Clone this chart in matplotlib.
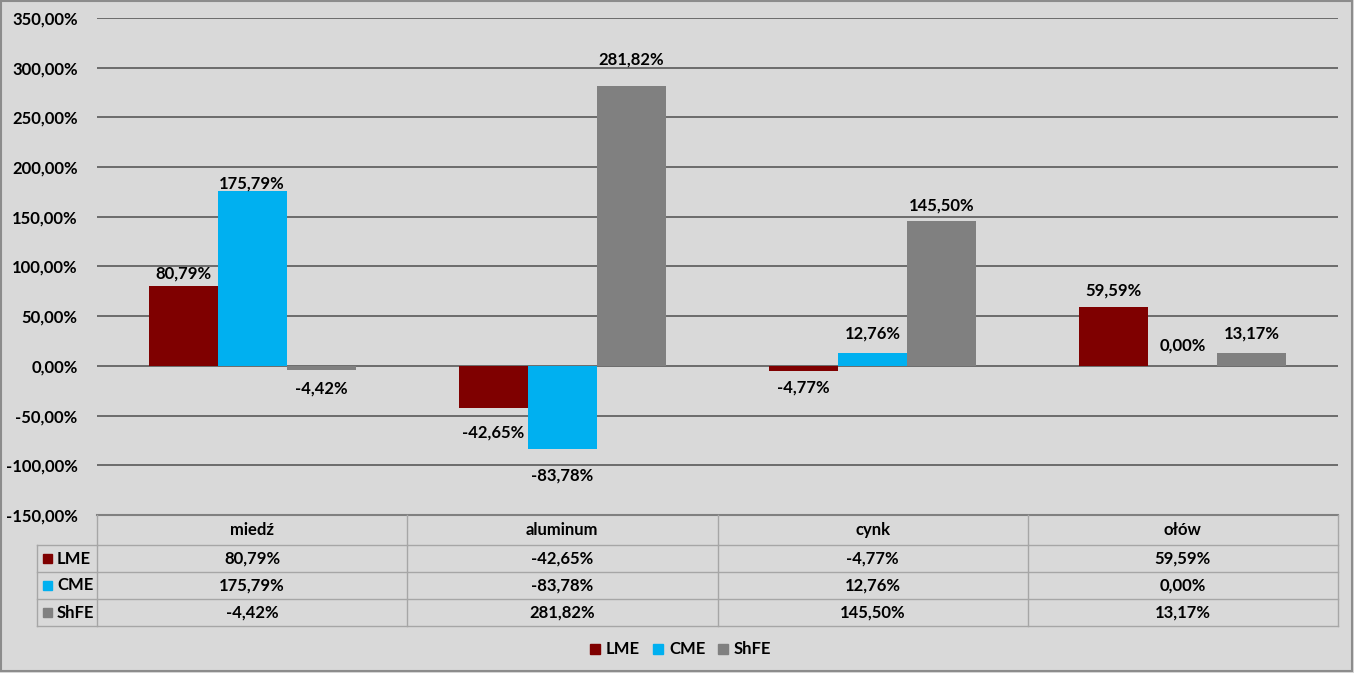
import numpy as np
import matplotlib
matplotlib.use('Agg')
from matplotlib import pyplot as plt
from matplotlib.patches import Rectangle

plt.rcParams['font.family'] = ['Lato', 'DejaVu Sans']
plt.rcParams['font.weight'] = 'bold'

categories = ['miedź', 'aluminum', 'cynk', 'ołów']
series = ['LME', 'CME', 'ShFE']
lme = [80.79, -42.65, -4.77, 59.59]
cme = [175.79, -83.78, 12.76, 0.00]
shfe = [-4.42, 281.82, 145.50, 13.17]
colors = ['#7F0000', '#00B0F0', '#808080']
yticks = list(range(-150, 351, 50))

values = [lme, cme, shfe]
# label offsets from the bar end, in pixels (layout only)
label_dy = [[-12, 24, 17, -16],
            [-8, 26, -20, -20],
            [18, -26, -16, -19]]

def pct(v):
    return ('%.2f%%' % v).replace('.', ',')

W, H = 1354, 673
fs = 12
fig = plt.figure(figsize=(W / 100, H / 100), dpi=100)
fig.patch.set_facecolor('#D9D9D9')

# plot area in pixels
x0, x1 = 97, 1338
y_top, y_bot = 18, 515
ax = fig.add_axes([x0 / W, 1 - y_bot / H, (x1 - x0) / W, (y_bot - y_top) / H])
ax.set_facecolor('#D9D9D9')
ax.set_xlim(0, len(categories))
ax.set_ylim(-150, 350)
ax.set_yticks(yticks)
ax.set_yticklabels([pct(t) for t in yticks], fontsize=fs, fontweight='bold')
ax.tick_params(axis='y', length=0, pad=14)
ax.set_xticks([])
for s in ax.spines.values():
    s.set_visible(False)
ax.grid(axis='y', color='#595959', linewidth=1.2)
ax.set_axisbelow(True)

bw = 0.2226
xc = np.arange(len(categories)) + 0.5
for i, (name, vals, col) in enumerate(zip(series, values, colors)):
    xs = xc + (i - 1) * bw
    ax.bar(xs, vals, width=bw, color=col, zorder=3)
    for x, v, dy in zip(xs, vals, label_dy[i]):
        ax.annotate(pct(v), (x, v), xytext=(0, -dy * 0.72), textcoords='offset points',
                    ha='center', va='center', fontsize=fs, fontweight='bold')

# data table + legend drawn in pixel coords
ov = fig.add_axes([0, 0, 1, 1])
ov.set_xlim(0, W)
ov.set_ylim(H, 0)
ov.axis('off')
ov.patch.set_alpha(0)

lc = '#A6A6A6'
row_y = [515, 545, 572, 599, 626]
col_x = [x0 + k * (x1 - x0) / len(categories) for k in range(len(categories) + 1)]
ov.plot([x0, x1], [515, 515], color='#808080', lw=1.5)
for yy in row_y[1:]:
    ov.plot([37, x1], [yy, yy], color=lc, lw=1)
for xx in col_x:
    ov.plot([xx, xx], [515, 626], color=lc, lw=1)
ov.plot([37, 37], [545, 626], color=lc, lw=1)

for j, cat in enumerate(categories):
    cx = (col_x[j] + col_x[j + 1]) / 2
    ov.text(cx, (row_y[0] + row_y[1]) / 2, cat, ha='center', va='center',
            fontsize=fs, fontweight='bold')
    for i, vals in enumerate(values):
        ov.text(cx, (row_y[i + 1] + row_y[i + 2]) / 2, pct(vals[j]), ha='center',
                va='center', fontsize=fs, fontweight='bold')
for i, (name, col) in enumerate(zip(series, colors)):
    yc = (row_y[i + 1] + row_y[i + 2]) / 2
    ov.add_patch(Rectangle((43, yc - 4.5), 9, 9, color=col))
    ov.text(57, yc, name, ha='left', va='center', fontsize=fs, fontweight='bold')

# legend
leg_x = [590, 653, 718]
for lx, name, col in zip(leg_x, series, colors):
    ov.add_patch(Rectangle((lx, 643.5), 10, 10, color=col))
    ov.text(lx + 16, 648.5, name, ha='left', va='center', fontsize=fs, fontweight='bold')

# outer border
ov.add_patch(Rectangle((1, 1), W - 3, H - 3, fill=False, edgecolor='#8C8C8C', lw=1.5))

fig.savefig('out.png', dpi=100, facecolor=fig.get_facecolor())
